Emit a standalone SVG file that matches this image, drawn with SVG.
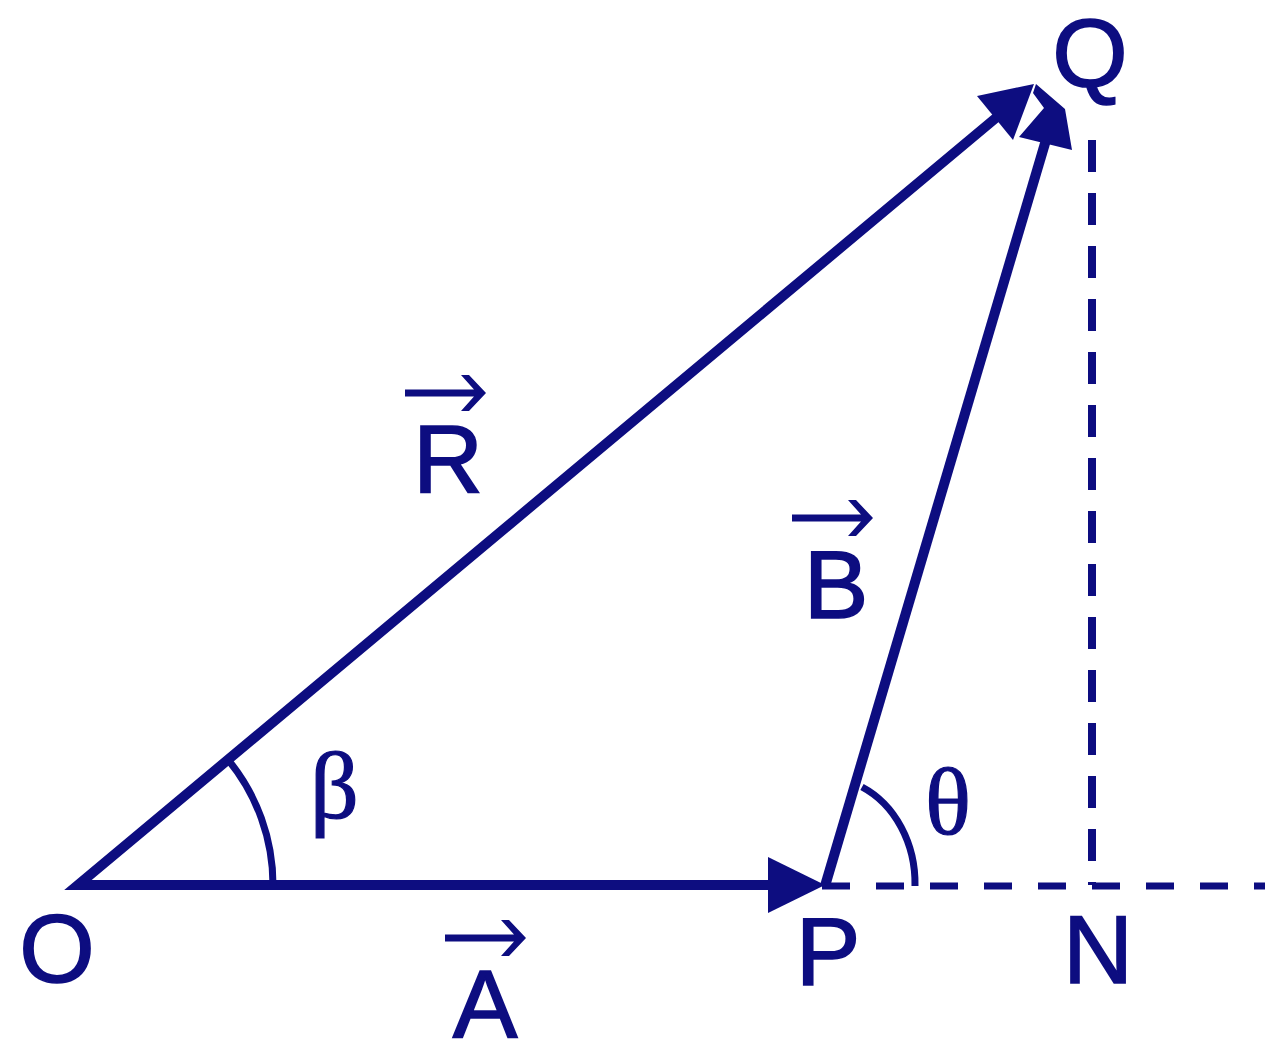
<svg xmlns="http://www.w3.org/2000/svg" xmlns:xlink="http://www.w3.org/1999/xlink" width="1281" height="1058" viewBox="0 0 1281 1058">
<style>
.ln{fill:none;stroke:#0d0d80;stroke-width:10;stroke-linejoin:miter}
.arc{fill:none;stroke:#0d0d80;stroke-width:7}
.dash{fill:none;stroke:#0d0d80;stroke-width:7;stroke-dasharray:28 26}
.vdash{fill:none;stroke:#0d0d80;stroke-width:8;stroke-dasharray:32 21}
.fill{fill:#0d0d80}
.lbl{font-family:"Liberation Sans",Arial,sans-serif;font-size:97px;fill:#0d0d80;stroke:#0d0d80;stroke-width:1.6;text-anchor:middle}
.grk{font-family:"Liberation Serif","Times New Roman",serif;font-size:96px;fill:#0d0d80;stroke:#0d0d80;stroke-width:1.2}
</style>
<defs>
<path id="vec" class="fill" d="M0 0 L-17 -18 L-25 -18 L-12 -3.5 L-81 -3.5 L-81 3.5 L-12 3.5 L-25 18 L-17 18 Z"/>
</defs>
<rect width="1281" height="1058" fill="#ffffff"/>
<g id="connectors">
<polyline class="ln" points="997,117 78,885 776,885"/>
<polygon class="fill" points="768,857 825,885 768,913"/>
<line class="ln" x1="825" y1="886" x2="1046" y2="140"/>
<polygon class="fill" points="1036,84 1065,109 1072,150 1019,137 1044,108 1033,93"/>
<polygon class="fill" points="977,96 1034,84 1013,140"/>
<line class="dash" x1="822" y1="886" x2="1265" y2="886"/>
<line class="vdash" x1="1092" y1="140" x2="1092" y2="885"/>
<path class="arc" d="M 273 885 A 197 197 0 0 0 227.8 759.4"/>
<path class="arc" d="M 915 886 A 90 106 0 0 0 862 787"/>
</g>
<g id="node-O"><text class="lbl" x="57" y="982">O</text></g>
<g id="node-P"><text class="lbl" x="828" y="985">P</text></g>
<g id="node-N"><text class="lbl" x="1098" y="983">N</text></g>
<g id="node-Q"><text class="lbl" x="1090" y="87">Q</text></g>
<g id="label-R"><use xlink:href="#vec" x="486" y="393"/><text class="lbl" x="448" y="493">R</text></g>
<g id="label-B"><use xlink:href="#vec" x="873" y="518"/><text class="lbl" x="836" y="618">B</text></g>
<g id="label-A"><use xlink:href="#vec" x="526" y="938"/><text class="lbl" x="485" y="1037">A</text></g>
<g id="label-beta"><text class="grk" x="310" y="818">β</text></g>
<g id="label-theta"><text class="grk" x="925" y="834">θ</text></g>
</svg>
